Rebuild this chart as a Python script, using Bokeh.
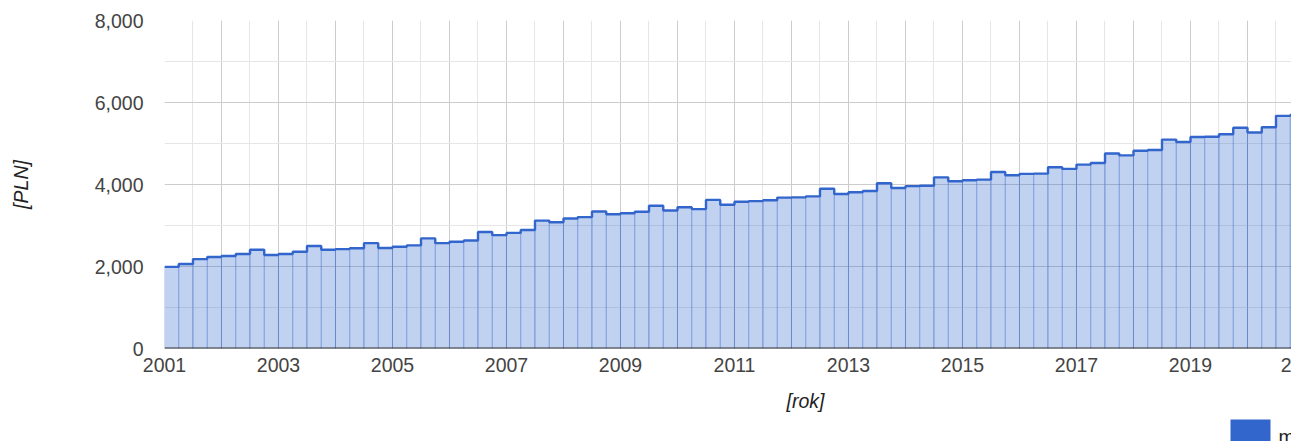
from bokeh.plotting import figure
from bokeh.layouts import column
from bokeh.models import (Range1d, FixedTicker, NumeralTickFormatter, Span,
                          ColumnDataSource)
from bokeh.core.properties import value
from bokeh.embed import file_html
from bokeh.resources import INLINE

# ---------------- data ----------------
first_year = 2001
quarters_per_year = 4
values = [
    1990, 2060, 2180, 2230, 2255, 2305, 2410, 2280, 2305, 2360,
    2500, 2410, 2425, 2445, 2570, 2450, 2480, 2515, 2685, 2570,
    2605, 2635, 2840, 2765, 2820, 2890, 3120, 3080, 3170, 3205,
    3340, 3275, 3300, 3335, 3480, 3365, 3445, 3400, 3625, 3505,
    3580, 3595, 3615, 3680, 3685, 3710, 3895, 3770, 3810, 3840,
    4030, 3915, 3960, 3970, 4175, 4080, 4105, 4120, 4305, 4225,
    4260, 4265, 4420, 4380, 4485, 4525, 4755, 4710, 4825, 4840,
    5095, 5035, 5160, 5165, 5225, 5385, 5270, 5395, 5675, 5695,
]
x_tick_years = [2001, 2003, 2005, 2007, 2009, 2011, 2013, 2015, 2017, 2019]
grid_years = list(range(2001, 2022))
y_ticks = [0, 2000, 4000, 6000, 8000]
y_minor = [1000, 3000, 5000, 7000]
series_name = "m"
x_title = "[rok]"
y_title = "[PLN]"
edge_label = "2"          # visible part of the next tick label, cut by the window edge

# ---------------- derived geometry ----------------
n = len(values)
left = [first_year + i / quarters_per_year for i in range(n)]
right = [first_year + (i + 1) / quarters_per_year for i in range(n)]
step_x = left + [right[-1]]
step_y = values + [values[-1]]
half_years = [y + 0.5 for y in grid_years[:-1]]

FONT = "Liberation Sans"
FS = "19.5px"
BLUE = "#3366cc"
W = 1291
H_MAIN = 385
H_BOTTOM = 441 - H_MAIN
FRAME_LEFT = 164

p = figure(width=W, height=H_MAIN, output_backend="svg", toolbar_location=None,
           x_range=Range1d(2001, 2020.772), y_range=Range1d(0, 8000),
           min_border_left=FRAME_LEFT, min_border_right=0, min_border_top=20,
           min_border_bottom=H_MAIN - 348, outline_line_color=None,
           background_fill_color="white", border_fill_color="white")

src = ColumnDataSource(dict(left=left, right=right, top=values, bottom=[0] * n))
p.quad(left="left", right="right", top="top", bottom="bottom", source=src,
       fill_color=BLUE, fill_alpha=0.3, line_color=BLUE, line_alpha=0.28, line_width=1)
p.step(x=step_x, y=step_y, mode="after", line_color=BLUE, line_width=2.4)

# grids
p.xgrid.ticker = FixedTicker(ticks=grid_years, minor_ticks=half_years)
p.xgrid.grid_line_color = "#cccccc"
p.xgrid.minor_grid_line_color = "#e6e6e6"
p.ygrid.ticker = FixedTicker(ticks=y_ticks, minor_ticks=y_minor)
p.ygrid.grid_line_color = "#cccccc"
p.ygrid.minor_grid_line_color = "#e6e6e6"

# axes
edge_tick = 2020.6875
p.xaxis.ticker = FixedTicker(ticks=x_tick_years + [edge_tick])
p.xaxis.major_label_overrides = {edge_tick: edge_label}
p.yaxis.ticker = FixedTicker(ticks=y_ticks)
p.yaxis.formatter = NumeralTickFormatter(format="0,0")
for ax in (p.xaxis[0], p.yaxis[0]):
    ax.axis_line_color = None
    ax.major_tick_line_color = None
    ax.minor_tick_line_color = None
    ax.major_tick_out = 0
    ax.major_tick_in = 0
    ax.major_label_text_font = FONT
    ax.major_label_text_font_size = FS
    ax.major_label_text_color = "#444444"
p.yaxis.major_label_standoff = 21
p.xaxis.major_label_standoff = 9

p.yaxis.axis_label = y_title
p.yaxis.axis_label_standoff = 60
p.yaxis.axis_label_text_font = FONT
p.yaxis.axis_label_text_font_size = FS
p.yaxis.axis_label_text_font_style = "italic"
p.yaxis.axis_label_text_color = "#222222"

p.add_layout(Span(location=0, dimension="width", line_color="#333333", line_width=2))

# ---------------- bottom strip: x title + legend (page-pixel coordinates) ----------------
b = figure(width=W, height=H_BOTTOM, output_backend="svg", toolbar_location=None,
           x_range=Range1d(FRAME_LEFT, W), y_range=Range1d(H_BOTTOM, 0),
           x_axis_type=None, y_axis_type=None,
           min_border=0, min_border_left=FRAME_LEFT, min_border_right=0,
           min_border_top=0, min_border_bottom=0, outline_line_color=None,
           background_fill_color="white", border_fill_color="white")
b.grid.visible = False

b.text(x=[805], y=[400 - H_MAIN], text=[x_title], text_align="center",
       text_baseline="middle", text_font=value(FONT), text_font_size=FS,
       text_font_style="italic", text_color="#222222")
b.quad(left=[1230], right=[1270], top=[419 - H_MAIN], bottom=[H_BOTTOM + 10],
       fill_color=BLUE, line_color=None)
b.text(x=[1278], y=[436 - H_MAIN], text=[series_name], text_align="left",
       text_baseline="alphabetic", text_font=value(FONT), text_font_size=FS,
       text_color="#222222")

layout = column(p, b, spacing=0)
open("out.html", "w").write(file_html(layout, INLINE))
